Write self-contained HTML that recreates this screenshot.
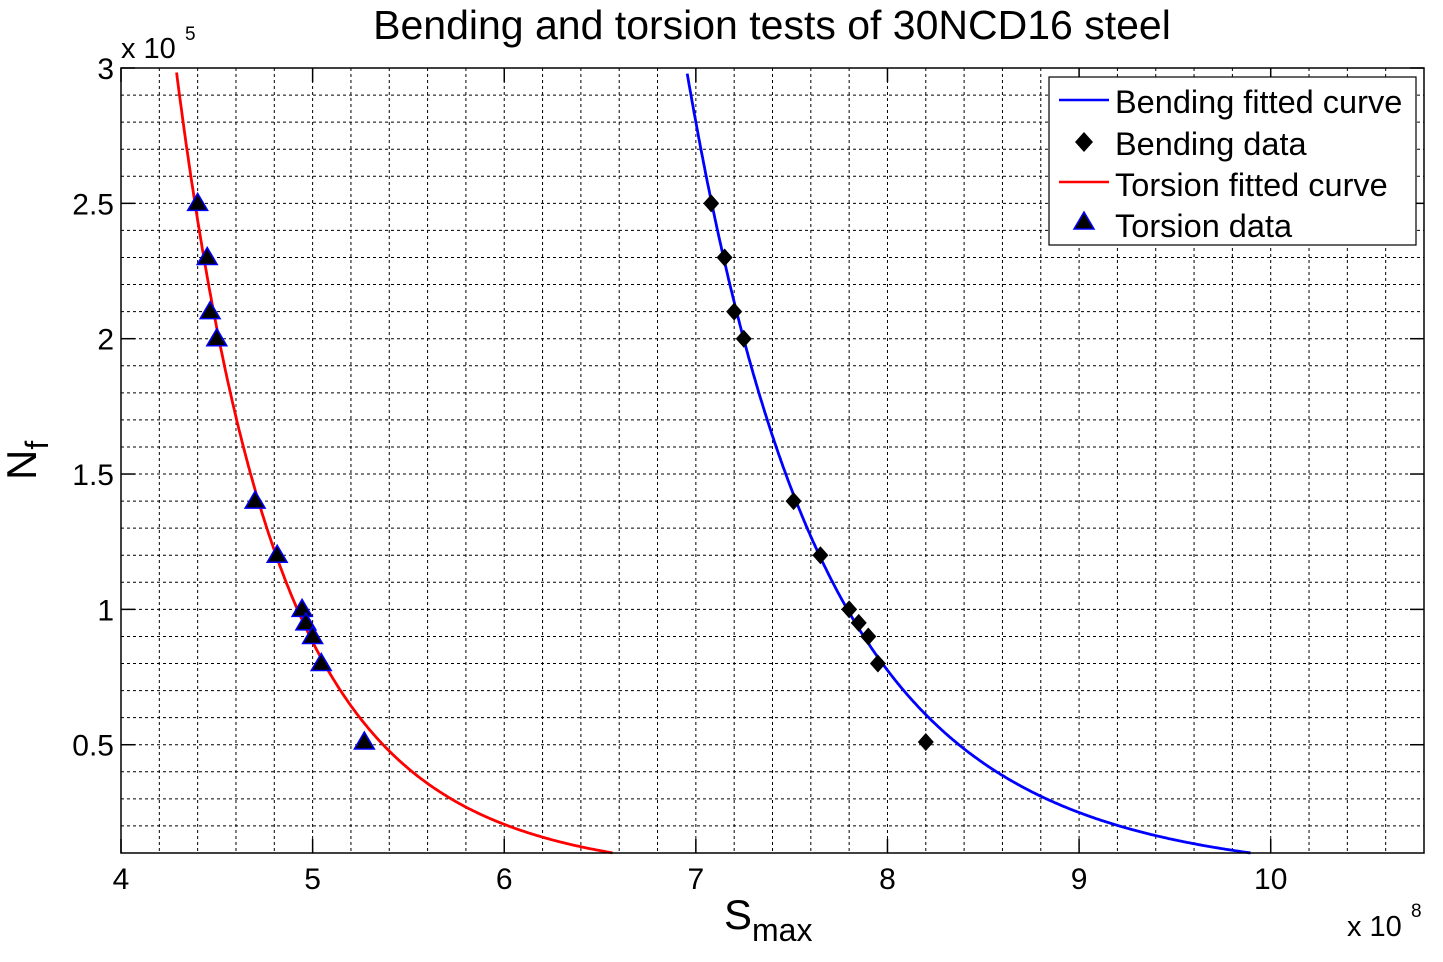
<!DOCTYPE html>
<html><head><meta charset="utf-8"><style>
body{margin:0;background:#fff}
svg text{font-family:"Liberation Sans",Arial,sans-serif;fill:#000}
</style></head><body>
<svg id="chart" width="1443" height="957" viewBox="0 0 1443 957" xmlns="http://www.w3.org/2000/svg">
<text x="772" y="39" font-size="41" text-anchor="middle">Bending and torsion tests of 30NCD16 steel</text>
<g id="grid"></g>
<g id="curves"></g>
<g id="marks"></g>
<rect x="121" y="68" width="1303" height="785" fill="none" stroke="#000" stroke-width="1.5"/>
<g id="ticks"></g>
<text x="121" y="58" font-size="29">x 10</text>
<text x="185" y="40" font-size="19">5</text>
<text x="1347" y="936" font-size="29">x 10</text>
<text x="1411" y="917" font-size="19">8</text>
<text x="724" y="929" font-size="42">S<tspan font-size="32" dy="12">max</tspan></text>
<text transform="translate(36,480) rotate(-90)" font-size="42">N<tspan font-size="32" dy="12">f</tspan></text>
<g>
<rect x="1049" y="77" width="367" height="168" fill="#fff" stroke="#000" stroke-width="1.2"/>
<line x1="1059" y1="100" x2="1109" y2="100" stroke="#0000ff" stroke-width="2.5"/>
<text x="1115" y="113" font-size="32.5">Bending fitted curve</text>
<path d="M1084 132 L1093 142 L1084 152 L1075 142 Z" fill="#000"/>
<text x="1115" y="155" font-size="32.5">Bending data</text>
<line x1="1059" y1="182" x2="1109" y2="182" stroke="#ff0000" stroke-width="2.5"/>
<text x="1115" y="196" font-size="32.5">Torsion fitted curve</text>
<path d="M1084 212 L1094 229 L1074 229 Z" fill="#000" stroke="#0000ff" stroke-width="1.5"/>
<text x="1115" y="237" font-size="32.5">Torsion data</text>
</g>
</svg>
<script>
const xTicks=[4,5,6,7,8,9,10];
const yTicks=[0.5,1,1.5,2,2.5,3];
const yTickLabels=["0.5","1","1.5","2","2.5","3"];
const torsionS=[4.40,4.45,4.465,4.50,4.70,4.815,4.945,4.965,5.0,5.045,5.27];
const torsionN=[2.5,2.3,2.1,2.0,1.4,1.2,1.0,0.95,0.9,0.8,0.51];
const bendingS=[7.08,7.15,7.20,7.25,7.51,7.65,7.80,7.85,7.90,7.95,8.20];
const bendingN=[2.5,2.3,2.1,2.0,1.4,1.2,1.0,0.95,0.9,0.8,0.51];
// fitted power law N = N0*(S0/S)^b
const torsionFit=[3.0,4.287,7.97];
const bendingFit=[3.0,6.95,9.62];
const X0=4,X1=10.8,Y0=0.1,Y1=3;
const L=121,R=1424,T=68,B=853;
const sx=v=>L+(v-X0)/(X1-X0)*(R-L);
const sy=v=>B-(v-Y0)/(Y1-Y0)*(B-T);
const NS="http://www.w3.org/2000/svg";
function mk(tag,attrs,parent){const e=document.createElementNS(NS,tag);for(const k in attrs)e.setAttribute(k,attrs[k]);parent.appendChild(e);return e;}
const grid=document.getElementById('grid'),ticks=document.getElementById('ticks');
for(let i=0;i<=34;i++){const v=X0+i*0.2;if(i===0||i===34)continue;
 const l=mk('line',{x1:sx(v),x2:sx(v),y1:T,y2:B,stroke:'#000','stroke-width':1,'stroke-dasharray':'3,3'},grid);
 }
for(let i=1;i<29;i++){const v=Y0+i*0.1;
 const l=mk('line',{x1:L,x2:R,y1:sy(v),y2:sy(v),stroke:'#000','stroke-width':1,'stroke-dasharray':'3,3'},grid);
 }
xTicks.forEach(v=>{const x=sx(v);
 mk('line',{x1:x,x2:x,y1:B,y2:B-14,stroke:'#000','stroke-width':1.5},ticks);
 mk('line',{x1:x,x2:x,y1:T,y2:T+14,stroke:'#000','stroke-width':1.5},ticks);
 const t=mk('text',{x:x,y:889,'font-size':30,'text-anchor':'middle'},ticks);t.textContent=v;
 });
yTicks.forEach((v,i)=>{const y=sy(v);
 mk('line',{x1:L,x2:L+14,y1:y,y2:y,stroke:'#000','stroke-width':1.5},ticks);
 mk('line',{x1:R,x2:R-14,y1:y,y2:y,stroke:'#000','stroke-width':1.5},ticks);
 const t=mk('text',{x:114,y:y+11,'font-size':30,'text-anchor':'end'},ticks);t.textContent=yTickLabels[i];
 });
const curves=document.getElementById('curves');
function curve(fit,color,name){let d='';const [N0,S0,b]=fit;
 for(let s=X0;s<=X1;s+=0.005){const n=N0*Math.pow(S0/s,b);if(n>Y1||n<Y0)continue;d+=(d?'L':'M')+sx(s).toFixed(1)+' '+sy(n).toFixed(1);}
 const p=mk('path',{d:d,fill:'none',stroke:color,'stroke-width':2.8},curves);
 }
curve(torsionFit,'#ff0000','torsion-fitted-curve');
curve(bendingFit,'#0000ff','bending-fitted-curve');
const marks=document.getElementById('marks');
torsionS.forEach((s,i)=>{const x=sx(s),y=sy(torsionN[i]);
 const p=mk('path',{d:`M${x} ${y-10}L${x+10} ${y+7}L${x-10} ${y+7}Z`,fill:'#000',stroke:'#0000ff','stroke-width':1.5},marks);
 });
bendingS.forEach((s,i)=>{const x=sx(s),y=sy(bendingN[i]);
 const p=mk('path',{d:`M${x} ${y-9}L${x+8} ${y}L${x} ${y+9}L${x-8} ${y}Z`,fill:'#000'},marks);
 });
</script>
</body></html>
